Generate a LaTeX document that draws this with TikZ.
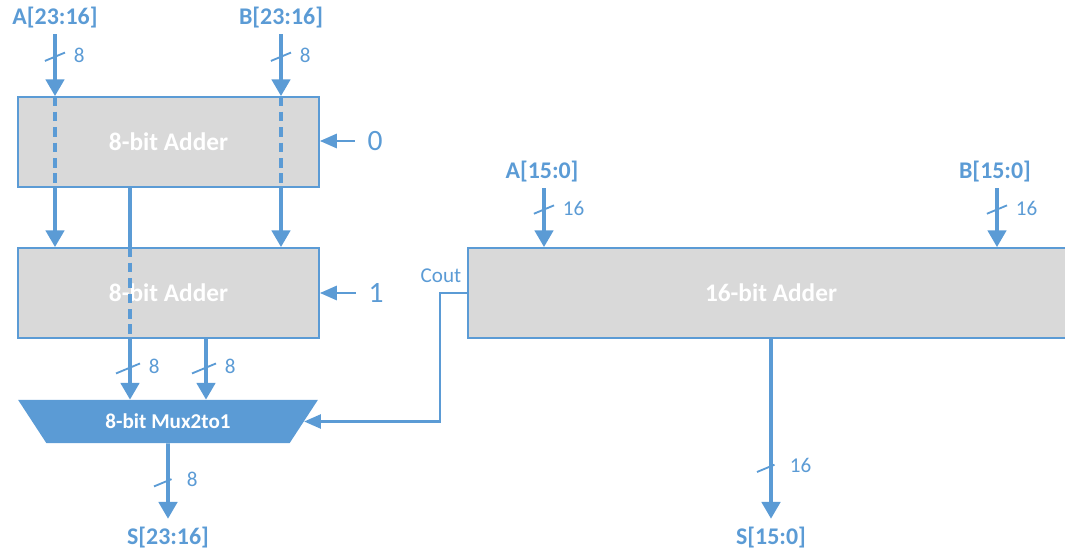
\documentclass[tikz,border=0pt]{standalone}
\usepackage{fontspec}
\setmainfont{Carlito}
\usetikzlibrary{arrows.meta,positioning,shapes.geometric}
\definecolor{wire}{HTML}{5B9BD5}
\definecolor{boxgray}{HTML}{D9D9D9}
\tikzset{
  adder/.style={draw=wire,line width=1.2pt,fill=boxgray,minimum height=2.25cm,
                text=white,font=\fontsize{18}{20}\selectfont\bfseries,inner sep=0pt},
  muxbox/.style={trapezium,trapezium stretches=true,trapezium angle=46,
                 shape border rotate=180,fill=wire,minimum width=7.5cm,minimum height=1.075cm,
                 text=white,font=\fontsize{15}{17}\selectfont\bfseries,inner sep=0pt},
  sig/.style={text=wire,font=\fontsize{17}{19}\selectfont\bfseries,inner sep=1pt},
  num/.style={text=wire,font=\fontsize{15}{17}\selectfont,inner sep=0pt,anchor=west},
  cin/.style={text=wire,font=\fontsize{21}{23}\selectfont,inner sep=0pt},
  bus/.style={draw=wire,line width=2.8pt,-{Triangle[length=12pt,width=13pt]}},
  plain/.style={draw=wire,line width=2.8pt},
  thru/.style={draw=wire,line width=2.2pt,dash pattern=on 7pt off 4pt},
  ctrl/.style={draw=wire,line width=1.8pt,-{Triangle[length=12pt,width=10pt]}},
  busw/.pic={\draw[wire,line width=1.3pt,solid,-] (-14,6) -- (10,-4);
             \node[num] at (17,-1) {#1};}
}

\begin{document}
\begin{tikzpicture}[x=0.025cm,y=-0.025cm]
\useasboundingbox (0,0) rectangle (1065,550);
% columns of the wires
\coordinate (colA) at (55,0);
\coordinate (colB) at (281,0);
\coordinate (colS) at (130,0);
\coordinate (colC) at (206,0);
% blocks
\node[adder,minimum width=7.525cm] (adderA) at (168.5,142) {8-bit Adder};
\node[adder,minimum width=7.525cm] (adderB) at (168.5,293) {8-bit Adder};
\node[muxbox] (mux) at (168,421.5) {8-bit Mux2to1};
\node[adder,minimum width=15.15cm] (adderC) at (771,293) {16-bit Adder};
% signal names
\node[sig] (aHi) at (55,18) {A[23:16]};
\node[sig] (bHi) at (281,18) {B[23:16]};
\node[sig] (aLo) at (542,172) {A[15:0]};
\node[sig] (bLo) at (995,172) {B[15:0]};
\node[sig] (sHi) at (168,538) {S[23:16]};
\node[sig] (sLo) at (771,538) {S[15:0]};
\node[cin] (cin0) at (375,141) {0};
\node[cin] (cin1) at (376,293) {1};
\node[num,anchor=center] (cout) at (441,276) {Cout};
% upper byte
\draw[bus,shorten <=3pt] (aHi.south) -- (colA |- adderA.north) pic[pos=0.4]{busw=8};
\draw[bus,shorten <=3pt] (bHi.south) -- (colB |- adderA.north) pic[pos=0.4]{busw=8};
\draw[thru] (colA |- adderA.north) -- (colA |- adderA.south);
\draw[thru] (colB |- adderA.north) -- (colB |- adderA.south);
\draw[bus] (colA |- adderA.south) -- (colA |- adderB.north);
\draw[bus] (colB |- adderA.south) -- (colB |- adderB.north);
\draw[plain] (colS |- adderA.south) -- (colS |- adderB.north);
\draw[thru] (colS |- adderB.north) -- (colS |- adderB.south);
\draw[bus] (colS |- adderB.south) -- (colS |- mux.north) pic[pos=0.47]{busw=8};
\draw[bus] (colC |- adderB.south) -- (colC |- mux.north) pic[pos=0.47]{busw=8};
\draw[ctrl,shorten <=9pt] (cin0.west) -- (adderA.east |- cin0.west);
\draw[ctrl,shorten <=9pt] (cin1.west) -- (adderB.east |- cin1.west);
\draw[bus,shorten >=5pt] (mux.south) -- (sHi.north) pic[pos=0.45]{busw=8};
% lower half
\draw[bus,shorten <=3pt] (aLo.south -| 544,0) -- (544,0 |- adderC.north) pic[pos=0.4]{busw=16};
\draw[bus,shorten <=3pt] (bLo.south -| 997,0) -- (997,0 |- adderC.north) pic[pos=0.4]{busw=16};
\draw[bus,shorten >=5pt] (adderC.south) -- (sLo.north) pic[pos=0.68]{busw=16};
\draw[ctrl] (adderC.west) -- ++(-27,0) |- (mux.east);
\end{tikzpicture}
\end{document}
